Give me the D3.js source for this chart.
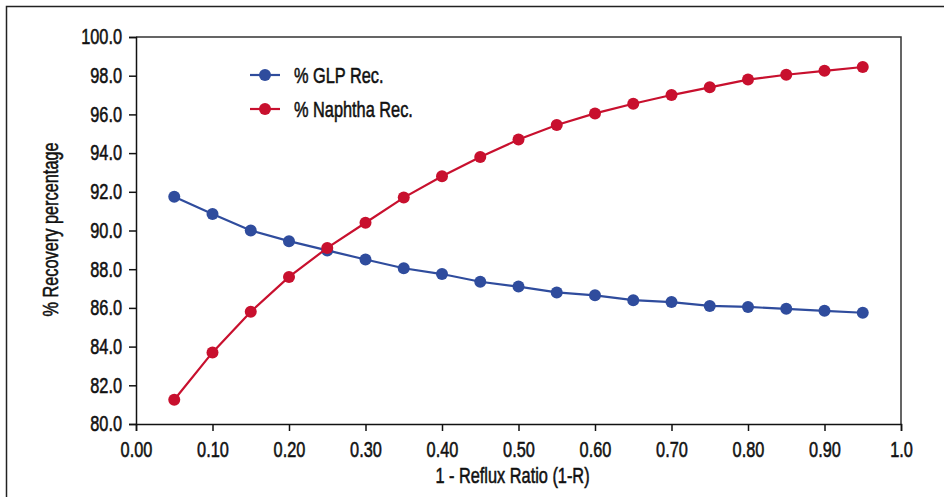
<!DOCTYPE html>
<html><head><meta charset="utf-8">
<script src="https://cdn.jsdelivr.net/npm/d3@7"></script>
<style>body{margin:0;background:#fff}svg{display:block}text{font-family:"Liberation Sans",Arial,sans-serif;fill:#111;stroke:#111;stroke-width:0.55px}</style>
</head><body><svg id="c" width="944" height="497"></svg>
<script>
const xValues = [0.05,0.10,0.15,0.20,0.25,0.30,0.35,0.40,0.45,0.50,0.55,0.60,0.65,0.70,0.75,0.80,0.85,0.90,0.95];
const glpRec = [91.75,90.85,90.0,89.45,88.97,88.5,88.05,87.75,87.35,87.1,86.8,86.65,86.4,86.3,86.1,86.05,85.95,85.85,85.75];
const naphthaRec = [81.25,83.7,85.8,87.6,89.1,90.4,91.7,92.8,93.8,94.7,95.45,96.05,96.55,97.0,97.4,97.8,98.05,98.25,98.45];
const xTicks = [0,0.1,0.2,0.3,0.4,0.5,0.6,0.7,0.8,0.9,1.0];
const xTickLabels = ["0.00","0.10","0.20","0.30","0.40","0.50","0.60","0.70","0.80","0.90","1.0"];
const yTicks = [80,82,84,86,88,90,92,94,96,98,100];
const seriesNames = ["% GLP Rec.","% Naphtha Rec."];
const seriesColors = ["#2F4C9D","#C8102E"];

const svg = d3.select("#c");
const L=136,R=901,T=37,B=424;
const x = d3.scaleLinear().domain([0,1]).range([L,R]);
const y = d3.scaleLinear().domain([80,100]).range([B,T]);
const SX = 0.76, fs = 21.5;

function condense(sel){
  sel.each(function(){
    const t = d3.select(this);
    const ax = +t.attr("x") || 0;
    t.attr("transform", (t.attr("transform")||"") + ` translate(${ax},0) scale(${SX},1) translate(${-ax},0)`);
  });
}

// outer frame
svg.append("rect").attr("x",6.5).attr("y",6.5).attr("width",960).attr("height",520)
  .attr("fill","none").attr("stroke","#222").attr("stroke-width",1.5);

// plot frame top/right
svg.append("path").attr("d",`M${L},${T}H${R}V${B}`).attr("fill","none").attr("stroke","#333").attr("stroke-width",1.5);

const xa = svg.append("g").attr("transform",`translate(0,${B})`)
  .call(d3.axisBottom(x).tickValues(xTicks).tickSize(7).tickPadding(11).tickFormat((d,i)=>xTickLabels[i]));
const ya = svg.append("g").attr("transform",`translate(${L},0)`)
  .call(d3.axisLeft(y).tickValues(yTicks).tickSize(7).tickPadding(7).tickFormat(d3.format(".1f")));
[xa,ya].forEach(a=>{
  a.select(".domain").attr("stroke","#111").attr("stroke-width",1.5);
  a.selectAll(".tick line").attr("stroke","#111").attr("stroke-width",1.5);
  a.selectAll("text").attr("font-size",fs).attr("font-family",null).attr("fill",null).call(condense);
});

svg.append("text").attr("x",(L+R)/2-6).attr("y",483).attr("text-anchor","middle").attr("font-size",fs).text("1 - Reflux Ratio (1-R)").call(condense);
svg.append("g").attr("transform",`translate(58,${(T+B)/2-1}) rotate(-90)`)
  .append("text").attr("x",0).attr("y",0).attr("text-anchor","middle").attr("font-size",fs).text("% Recovery percentage").call(condense);

const series = [glpRec, naphthaRec];
series.forEach((vals,si)=>{
  const pts = xValues.map((v,i)=>[v,vals[i]]);
  svg.append("path").datum(pts).attr("fill","none").attr("stroke",seriesColors[si]).attr("stroke-width",2.2)
    .attr("d",d3.line().x(d=>x(d[0])).y(d=>y(d[1])));
  svg.append("g").selectAll("circle").data(pts).join("circle")
    .attr("cx",d=>x(d[0])).attr("cy",d=>y(d[1])).attr("r",6).attr("fill",seriesColors[si]);
});

// legend
seriesNames.forEach((n,i)=>{
  const ly = 75 + i*34;
  const g = svg.append("g");
  g.append("line").attr("x1",250).attr("x2",280).attr("y1",ly).attr("y2",ly).attr("stroke",seriesColors[i]).attr("stroke-width",2.2);
  g.append("circle").attr("cx",265).attr("cy",ly).attr("r",6).attr("fill",seriesColors[i]);
  g.append("text").attr("x",294).attr("y",ly).attr("dy","0.36em").attr("font-size",fs).text(n).call(condense);
});
</script></body></html>
